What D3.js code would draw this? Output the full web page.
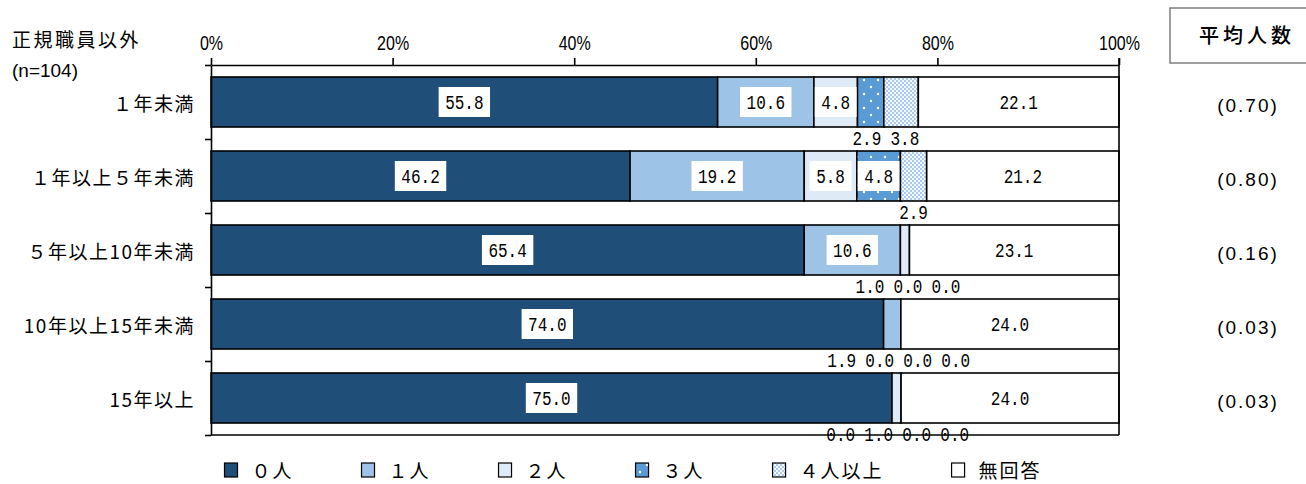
<!DOCTYPE html>
<html><head><meta charset="utf-8">
<script src="https://cdn.jsdelivr.net/npm/d3@7"></script>
<style>
body{margin:0;background:#fff;}
svg{display:block;}
</style></head><body>
<svg id="chart" width="1306" height="484"></svg>
<script>
// ---------- data ----------
const categories = ["１年未満","１年以上５年未満","５年以上10年未満","10年以上15年未満","15年以上"];
const seriesNames = ["０人","１人","２人","３人","４人以上","無回答"];
const zeroPeople = [55.8,46.2,65.4,74.0,75.0];
const onePerson = [10.6,19.2,10.6,1.9,0.0];
const twoPeople = [4.8,5.8,1.0,0.0,1.0];
const threePeople = [2.9,4.8,0.0,0.0,0.0];
const fourPlus = [3.8,2.9,0.0,0.0,0.0];
const noAnswer = [22.1,21.2,23.1,24.0,24.0];
const averages = ["(0.70)","(0.80)","(0.16)","(0.03)","(0.03)"];
const xTicks = [0,20,40,60,80,100];
const titleText = "正規職員以外";
const sampleText = "(n=104)";
const avgTitle = "平均人数";

// ---------- setup ----------
const svg = d3.select("#chart");
const JP = "'Noto Sans CJK JP','Noto Sans',sans-serif";
const LAT = "'Liberation Sans',Arial,sans-serif";
const MONO = "'Liberation Mono','DejaVu Sans Mono',monospace";
const keys = ["s0","s1","s2","s3","s4","s5"];
const seriesArrays = [zeroPeople,onePerson,twoPeople,threePeople,fourPlus,noAnswer];
const rows = categories.map((c,i)=>{
  const r = {cat:c};
  keys.forEach((k,j)=> r[k] = seriesArrays[j][i]);
  return r;
});

const defs = svg.append("defs");
const p3 = defs.append("pattern").attr("id","pat3").attr("patternUnits","userSpaceOnUse")
  .attr("width",14).attr("height",14);
p3.append("rect").attr("width",14).attr("height",14).attr("fill","#5B9BD5");
p3.append("circle").attr("cx",3).attr("cy",3).attr("r",1.2).attr("fill","#fff");
p3.append("circle").attr("cx",10).attr("cy",10).attr("r",1.2).attr("fill","#fff");
const p4 = defs.append("pattern").attr("id","pat4").attr("patternUnits","userSpaceOnUse")
  .attr("width",4).attr("height",4);
p4.append("rect").attr("width",4).attr("height",4).attr("fill","#F4F8FD");
p4.append("rect").attr("width",2).attr("height",2).attr("fill","#A9CBEE");
p4.append("rect").attr("x",2).attr("y",2).attr("width",2).attr("height",2).attr("fill","#A9CBEE");

const fills = ["#1F4E79","#9DC3E6","#DEEBF7","url(#pat3)","url(#pat4)","#FFFFFF"];

const x = d3.scaleLinear().domain([0,1]).range([211,1119]);
const y = d3.scaleBand().domain(categories).range([65,435])
  .paddingInner(24/74).paddingOuter(12/74);

const stacked = d3.stack().keys(keys).offset(d3.stackOffsetExpand)(rows);

// ---------- bars ----------
const gBars = svg.append("g");
stacked.forEach((layer,j)=>{
  gBars.selectAll(null).data(layer.filter(d=>d[1]-d[0]>0)).join("rect")
    .attr("x",d=>x(d[0])).attr("width",d=>x(d[1])-x(d[0]))
    .attr("y",d=>y(d.data.cat)).attr("height",y.bandwidth())
    .attr("fill",fills[j]).attr("stroke","#000").attr("stroke-width",1.6);
});

// ---------- value labels ----------
const SX = 0.8, FS = 20;
const gLab = svg.append("g");
categories.forEach((c,i)=>{
  const below = [];
  stacked.forEach((layer,j)=>{
    const d = layer[i];
    const v = seriesArrays[j][i];
    const cx = (x(d[0])+x(d[1]))/2;
    const txt = v.toFixed(1);
    if (v >= 4) {
      const cy = y(c)+y.bandwidth()/2;
      const g = gLab.append("g");
      const t = g.append("text").text(txt)
        .attr("font-family",MONO).attr("font-size",FS).attr("fill","#000")
        .attr("text-anchor","middle")
        .attr("transform",`translate(${cx},${cy+6.5}) scale(${SX},1)`);
      const w = t.node().getComputedTextLength()*SX + 13;
      g.insert("rect","text").attr("x",cx-w/2).attr("y",cy-15)
        .attr("width",w).attr("height",30).attr("fill","#fff");
    } else {
      below.push({cx, ideal:cx, txt});
    }
  });
  // spread overlapping labels below the bar
  const gap = 38;
  let clusters = below.map(b=>({items:[b]}));
  const place = cl => {
    const m = d3.mean(cl.items,b=>b.ideal);
    const n = cl.items.length;
    cl.items.forEach((b,k)=> b.cx = m + (k-(n-1)/2)*gap);
  };
  let changed = true;
  while (changed) {
    changed = false;
    clusters.forEach(place);
    for (let k=0;k<clusters.length-1;k++){
      const a = clusters[k], b = clusters[k+1];
      if (b.items[0].cx - a.items[a.items.length-1].cx < gap) {
        a.items = a.items.concat(b.items);
        clusters.splice(k+1,1);
        changed = true; break;
      }
    }
  }
  const by = y(c)+y.bandwidth()+11;
  below.forEach(b=>{
    gLab.append("text").text(b.txt)
      .attr("font-family",MONO).attr("font-size",FS).attr("fill","#000")
      .attr("text-anchor","middle")
      .attr("transform",`translate(${b.cx},${by+6.5}) scale(${SX},1)`);
  });
});

// ---------- axes / frame ----------
const axTop = svg.append("g").attr("transform","translate(0,65)")
  .call(d3.axisTop(x).tickValues(xTicks.map(t=>t/100)).tickSize(7).tickSizeOuter(0)
    .tickPadding(8).tickFormat(d=>Math.round(d*100)+"%"));
axTop.select(".domain").attr("stroke","#000").attr("stroke-width",1.6);
axTop.selectAll(".tick line").attr("stroke","#000").attr("stroke-width",1.6);
axTop.selectAll(".tick text").attr("font-family",LAT).attr("font-size",20)
  .attr("fill","#000").attr("transform","scale(0.8,1)");

const yLin = d3.scaleLinear().domain([0,categories.length]).range([65,435]);
const axLeft = svg.append("g").attr("transform","translate(211,0)")
  .call(d3.axisLeft(yLin).tickValues(d3.range(categories.length+1)).tickSize(6)
    .tickSizeOuter(0).tickFormat(""));
axLeft.select(".domain").attr("stroke","#000").attr("stroke-width",1.6);
axLeft.selectAll(".tick line").attr("stroke","#000").attr("stroke-width",1.6);

svg.append("line").attr("x1",211).attr("x2",1119).attr("y1",435).attr("y2",435)
  .attr("stroke","#000").attr("stroke-width",1.6);
svg.append("line").attr("x1",1119).attr("x2",1119).attr("y1",58).attr("y2",435)
  .attr("stroke","#000").attr("stroke-width",1.6);

// ---------- category labels ----------
svg.append("g").selectAll("text").data(categories).join("text")
  .attr("x",195).attr("y",d=>y(d)+y.bandwidth()/2+9)
  .attr("text-anchor","end").attr("font-family",JP).attr("font-size",19)
  .attr("letter-spacing",1.5).attr("fill","#000").text(d=>d);

// title
svg.append("text").attr("x",12).attr("y",47).attr("font-family",JP).attr("font-size",19)
  .attr("letter-spacing",2.5).attr("fill","#000").text(titleText);
svg.append("text").attr("x",12).attr("y",77).attr("font-family",LAT).attr("font-size",19)
  .attr("fill","#000").text(sampleText);

// ---------- averages ----------
svg.append("rect").attr("x",1170).attr("y",8).attr("width",150).attr("height",55)
  .attr("fill","#fff").attr("stroke","#7F7F7F").attr("stroke-width",1.5);
svg.append("text").attr("x",1247).attr("y",43).attr("text-anchor","middle")
  .attr("font-family",JP).attr("font-size",20).attr("font-weight",500).attr("letter-spacing",4)
  .attr("fill","#000").text(avgTitle);
svg.append("g").selectAll("text").data(averages).join("text")
  .attr("x",1248).attr("y",(d,i)=>y(categories[i])+y.bandwidth()/2+10)
  .attr("text-anchor","middle").attr("font-family",LAT).attr("font-size",19)
  .attr("letter-spacing",2).attr("fill","#000").text(d=>d);

// ---------- legend ----------
const leg = svg.append("g");
let lx = 224.5;
seriesNames.forEach((name,j)=>{
  leg.append("rect").attr("x",lx).attr("y",463).attr("width",13).attr("height",14)
    .attr("fill",fills[j]).attr("stroke","#000").attr("stroke-width",1.2);
  const t = leg.append("text").attr("x",lx+27).attr("y",478)
    .attr("font-family",JP).attr("font-size",19).attr("letter-spacing",2)
    .attr("fill","#000").text(name);
  lx += 27 + t.node().getComputedTextLength() + 68;
});
</script>
</body></html>
